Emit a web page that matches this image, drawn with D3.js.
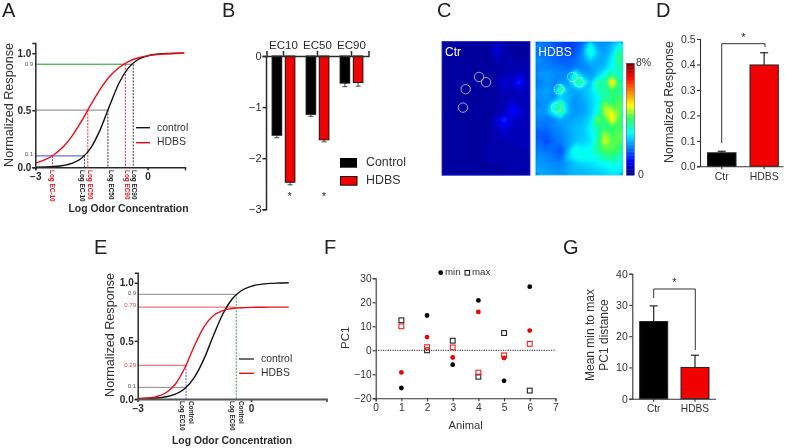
<!DOCTYPE html>
<html><head><meta charset="utf-8">
<script src="https://cdn.jsdelivr.net/npm/d3@7"></script>
<style>
html,body{margin:0;padding:0;background:#fff;overflow:hidden}
svg{display:block;font-family:"Liberation Sans",Arial,sans-serif;filter:blur(0.35px)}
</style></head><body>
<svg id="fig" width="787" height="448"></svg>
<script>
// ---- Data ----
const logConc = [-3,-2.75,-2.5,-2.25,-2,-1.75,-1.5,-1.25,-1,-0.75,-0.5,-0.25,0,0.25,0.5,0.75,1];
const curveAControl = [0.001,0.003,0.007,0.016,0.036,0.082,0.175,0.334,0.543,0.738,0.87,0.941,0.974,0.989,0.995,0.998,0.999];
const curveAHdbs = [0.037,0.065,0.11,0.18,0.28,0.409,0.552,0.686,0.796,0.873,0.925,0.956,0.975,0.986,0.992,0.996,0.998];
const curveEControl = [0.002,0.004,0.008,0.019,0.042,0.091,0.186,0.341,0.541,0.729,0.86,0.933,0.969,0.986,0.994,0.997,0.999];
const curveEHdbs = [0.003,0.008,0.021,0.054,0.129,0.269,0.456,0.619,0.715,0.76,0.778,0.785,0.788,0.789,0.79,0.79,0.79];
const ecA = [
 {label:"Log EC-10",x:-2.54,y:0.1,c:"#e8141c",lx:52,dash:1},
 {label:"Log EC-10",x:-1.68,y:0.1,c:"#222",lx:81.5,dash:1},
 {label:"Log EC50",x:-1.59,y:0.5,c:"#e8141c",lx:90,dash:1},
 {label:"Log EC50",x:-1.05,y:0.5,c:"#222",lx:111,dash:1},
 {label:"Log EC90",x:-0.58,y:0.9,c:"#e8141c",lx:126.5,dash:1},
 {label:"Log EC90",x:-0.37,y:0.9,c:"#222",lx:133.5,dash:1}];
const levelsA = [
 {y:0.9,x:-0.37,c:"#999"},{y:0.9,x:-0.58,c:"#5cb85c"},
 {y:0.5,x:-1.05,c:"#999"},{y:0.1,x:-1.68,c:"#6a6af0"}];
const ecGroups = ["EC10","EC50","EC90"];
const ecControl = [-1.55,-1.14,-0.53];
const ecHdbs = [-2.47,-1.64,-0.52];
const ecControlErr = [0.05,0.04,0.07];
const ecHdbsErr = [0.05,0.04,0.07];
const groups = ["Ctr","HDBS"];
const dValues = [0.053,0.398];
const dErr = [0.006,0.048];
const gValues = [24.7,10];
const gErr = [5,3.9];
const animals = [1,2,3,4,5,6];
const minBlack = [-15.7,14.5,-6,20.8,-12.7,26.5];
const maxBlack = [12.5,0,4,-11,7.2,-16.8];
const minRed = [-9.2,5.5,-3,16,-3.2,8.2];
const maxRed = [10,1.3,1.2,-9.3,-2.1,2.7];
const heatCols = 12, heatRows = 18;
const heatCtr = [
 .3,.3,.3,.3,.3,.3,.3,.7,.4,.3,.3,.3,
 .25,.25,.25,.25,.25,.25,.3,.8,.45,.35,.3,.3,
 .25,.25,.25,.25,.25,.25,.3,.45,.4,.35,.35,.35,
 .25,.25,.25,.25,.25,.25,.3,.35,.35,.4,.4,.4,
 .25,.25,.25,.25,.25,.25,.3,.35,.45,.55,.7,.5,
 .25,.25,.25,.25,.25,.25,.3,.4,.8,.6,1.4,.6,
 .25,.25,.25,.25,.25,.25,.3,.35,.55,.5,.7,.5,
 .25,.25,.25,.25,.25,.25,.3,.35,.4,.45,.5,.45,
 .25,.25,.25,.25,.25,.25,.3,.35,.45,.9,.55,.5,
 .25,.25,.25,.25,.25,.25,.3,.4,.5,1.1,.9,.5,
 .25,.25,.25,.25,.25,.25,.3,.7,1.5,.7,.6,.5,
 .25,.25,.25,.25,.25,.25,.35,.6,.9,.6,.55,.5,
 .25,.25,.25,.25,.25,.3,.35,.5,.6,.5,.5,.45,
 .25,.25,.25,.25,.25,.3,.35,.4,.45,.45,.45,.45,
 .25,.25,.25,.25,.3,.35,.45,.4,.4,.4,.45,.45,
 .25,.25,.25,.25,.3,.35,.4,.4,.4,.4,.4,.4,
 .25,.25,.25,.25,.25,.3,.35,.35,.35,.4,.4,.4,
 .25,.25,.25,.25,.25,.3,.3,.35,.35,.35,.35,.35];
const heatHdbs = [
 2.1,2.0,1.8,1.6,1.5,1.6,2.0,3.1,2.3,2.2,2.5,3.1,
 2.0,1.9,1.8,1.7,1.6,1.7,2.2,3.6,2.6,2.3,2.7,3.9,
 2.2,2.0,1.9,1.8,1.8,1.9,2.2,2.7,2.4,2.4,3.0,4.0,
 2.1,2.1,2.0,2.0,1.9,2.0,2.1,2.2,2.4,2.6,3.1,3.7,
 2.2,2.3,2.2,2.1,2.2,3.6,2.4,2.3,2.6,3.3,3.9,3.4,
 2.0,2.2,2.1,2.2,2.3,3.6,3.8,2.5,3.8,3.6,5.6,3.8,
 2.2,2.3,2.2,4.4,2.4,2.4,2.5,2.7,3.6,3.6,4.2,3.8,
 2.2,2.3,2.1,2.6,2.5,2.2,2.4,2.7,3.0,3.7,3.9,4.2,
 2.1,2.2,3.1,4.0,2.4,2.2,2.3,2.6,3.0,4.6,4.0,4.4,
 2.2,2.3,3.1,4.0,2.5,2.2,2.3,2.6,3.2,4.7,5.0,4.3,
 2.1,2.0,2.1,2.4,2.3,2.4,2.5,2.7,4.5,4.0,5.2,4.2,
 2.0,1.9,2.1,2.2,2.4,2.5,2.6,3.0,3.8,3.9,4.1,4.2,
 1.8,1.7,2.0,2.1,2.3,2.5,2.6,2.9,3.4,4.7,4.1,4.4,
 1.9,1.6,1.9,2.0,2.3,2.6,2.7,2.8,3.7,4.9,4.3,4.3,
 2.0,1.9,1.9,1.7,2.4,3.4,3.0,3.2,3.8,4.3,4.3,4.0,
 2.2,2.1,2.0,1.8,2.7,3.1,3.4,3.1,3.3,3.8,3.9,3.6,
 2.3,2.2,2.1,2.1,2.4,2.6,2.7,2.8,2.9,3.1,3.2,3.2,
 2.4,2.3,2.3,2.2,2.4,2.5,2.5,2.6,2.7,2.8,2.9,2.9];
const roiCols = [5.05,6.0,3.23,2.86];
const roiRows = [4.77,5.48,6.42,8.9];
const colorStops = [0,1,3,4.1,5,7,8];
const colorNames = ["#00007f","#0000ff","#00ffff","#30ff60","#ffff00","#ff0000","#7f0000"];
const fullTicks = [0,0.5,1];

// ---- Helpers ----
const svg = d3.select("#fig");
const INK = "#2a2a2a";
function txt(x,y,s,o={}){
  const t = svg.append("text").attr("x",x).attr("y",y).text(s)
    .attr("font-size",o.size||11).attr("fill",o.fill||INK)
    .attr("text-anchor",o.anchor||"start").attr("dominant-baseline",o.base||"auto");
  if(o.bold) t.attr("font-weight","bold");
  if(o.rot!=null) t.attr("transform",`rotate(${o.rot} ${x} ${y})`);
  return t;
}
function styleAxis(g,o={}){
  g.selectAll(".domain").attr("stroke",o.stroke||INK).attr("stroke-width",o.w||1.5);
  g.selectAll(".tick line").attr("stroke",o.stroke||INK).attr("stroke-width",o.w||1.5);
  g.selectAll(".tick text").attr("font-size",o.size||11).attr("fill",o.fill||INK)
    .attr("font-family","Liberation Sans, Arial, sans-serif")
    .attr("font-weight",o.bold?"bold":"normal");
  return g;
}
function line(x1,y1,x2,y2,c,w,dash){
  const l = svg.append("line").attr("x1",x1).attr("y1",y1).attr("x2",x2).attr("y2",y2)
    .attr("stroke",c).attr("stroke-width",w||1);
  if(dash) l.attr("stroke-dasharray",dash);
  return l;
}
[["A",2,17],["B",222,17],["C",437,17],["D",656,17],["E",94,254],["F",324,254],["G",563,254]]
  .forEach(d=>txt(d[1],d[2],d[0],{size:20,fill:"#222"}));

// ---- Panel A ----
(function(){
  const x = d3.scaleLinear().domain([-3,0]).range([35.3,147]);
  const y = d3.scaleLinear().domain([0,1]).range([167.3,53]);
  levelsA.forEach(d=>line(x(-3),y(d.y),x(d.x),y(d.y),d.c,1.2));
  ecA.forEach(d=>{
    line(x(d.x),y(d.y),x(d.x),y(0),d.c,0.9,"2,1.2");
    txt(d.lx,170,d.label,{size:6.4,bold:true,fill:d.c,rot:90,base:"middle"});
  });
  const ln = d3.line().x((d,i)=>x(logConc[i])).y(d=>y(d)).curve(d3.curveMonotoneX);
  svg.append("path").attr("d",ln(curveAControl)).attr("fill","none").attr("stroke","#111").attr("stroke-width",1.4);
  svg.append("path").attr("d",ln(curveAHdbs)).attr("fill","none").attr("stroke","#f00a14").attr("stroke-width",1.4);
  const ya = svg.append("g").attr("transform","translate(35.3,0)").call(
    d3.axisLeft(d3.scaleLinear().domain([0,1.09]).range([167.3,43])).tickValues(fullTicks).tickFormat(d3.format(".1f")).tickSize(3).tickPadding(1));
  styleAxis(ya,{size:10,bold:true});
  const xa = svg.append("g").attr("transform","translate(0,167.3)").call(
    d3.axisBottom(d3.scaleLinear().domain([-3,1]).range([35.3,185])).tickValues([-3,0]).tickFormat(d3.format("d")).tickSize(3).tickPadding(3));
  styleAxis(xa,{size:10,bold:true});
  txt(33,64.6,"0.9",{size:6,anchor:"end",base:"middle",fill:"#555"});
  txt(33,154.5,"0.1",{size:6,anchor:"end",base:"middle",fill:"#555"});
  txt(10,105,"Normalized Response",{size:12.6,anchor:"middle",base:"middle",rot:-90,fill:"#333"});
  txt(128.5,209,"Log Odor Concentration",{size:10.4,bold:true,anchor:"middle",base:"middle"});
  line(136,127.7,150,127.7,"#111",1.4); line(136,142.7,150,142.7,"#f00a14",1.4);
  txt(157,128,"control",{size:10.4,base:"middle",fill:"#333"});
  txt(157,142.5,"HDBS",{size:10.4,base:"middle",fill:"#333"});
})();

// ---- Panel B ----
(function(){
  const x = d3.scaleBand().domain(ecGroups).range([266.5,368.5]);
  const y = d3.scaleLinear().domain([-3,0]).range([209.3,56]);
  const off = 6.6, w = 9.6;
  const draw=(vals,errs,sign,fill)=>{
    ecGroups.forEach((g,i)=>{
      const cx = x(g)+x.bandwidth()/2+sign*off;
      line(cx,y(vals[i]),cx,y(vals[i]-errs[i]),"#333",0.9);
      line(cx-2.5,y(vals[i]-errs[i]),cx+2.5,y(vals[i]-errs[i]),"#333",0.9);
      svg.append("rect").attr("x",cx-w/2).attr("width",w).attr("y",y(0)).attr("height",y(vals[i])-y(0))
        .attr("fill",fill).attr("stroke","#111").attr("stroke-width",1);
    });
  };
  draw(ecControl,ecControlErr,-1,"#000");
  draw(ecHdbs,ecHdbsErr,1,"#f00000");
  const ya = svg.append("g").attr("transform","translate(266,0)").call(
    d3.axisLeft(y).tickValues([-3,-2,-1,0]).tickFormat(d3.format("d")).tickSize(3.5).tickPadding(1));
  styleAxis(ya,{size:11});
  const xa = svg.append("g").attr("transform","translate(0,56)").call(
    d3.axisTop(x).tickSize(5).tickPadding(2));
  styleAxis(xa,{size:11.5});
  txt(289.7,199.5,"*",{size:11,anchor:"middle"});
  txt(324,199.5,"*",{size:11,anchor:"middle"});
  svg.append("rect").attr("x",340).attr("y",158).attr("width",17).attr("height",9.7).attr("fill","#000");
  svg.append("rect").attr("x",340.5).attr("y",176.5).attr("width",16.5).attr("height",8.7).attr("fill","#f00000").attr("stroke","#111");
  txt(366,163,"Control",{size:12.4,base:"middle",fill:"#333"});
  txt(366,180.5,"HDBS",{size:12.4,base:"middle",fill:"#333"});
})();

// ---- Panel C ----
(function(){
  const color = d3.scaleLinear().domain(colorStops).range(colorNames);
  const defs = svg.append("defs");
  defs.append("filter").attr("id","soft").append("feGaussianBlur").attr("stdDeviation",1);
  const thresholds = d3.range(0.05,8,0.1);
  const contour = d3.contours().size([heatCols,heatRows]).thresholds(thresholds);
  const panels = [
    {id:"c1",x:442,w:88,vals:heatCtr,label:"Ctr",frame:"#2a2ad8",roi:"#c8c8d8",dash:null},
    {id:"c2",x:535.3,w:87.7,vals:heatHdbs,label:"HDBS",frame:"#7fe8f0",roi:"#e8ffff",dash:"1.5,0.7"}];
  const top=41.5,h=133.7;
  panels.forEach(p=>{
    const sx = d3.scaleLinear().domain([0,heatCols]).range([p.x,p.x+p.w]);
    const sy = d3.scaleLinear().domain([0,heatRows]).range([top,top+h]);
    defs.append("clipPath").attr("id",p.id).append("rect").attr("x",p.x).attr("y",top).attr("width",p.w).attr("height",h);
    const path = d3.geoPath(d3.geoTransform({point(a,b){this.stream.point(sx(a),sy(b));}}));
    const outer = svg.append("g").attr("clip-path",`url(#${p.id})`);
    const inner = outer.append("g").attr("filter","url(#soft)");
    inner.append("rect").attr("x",p.x-5).attr("y",top-5).attr("width",p.w+10).attr("height",h+10).attr("fill",color(d3.min(p.vals)));
    inner.selectAll("path").data(contour(p.vals)).join("path").attr("d",path).attr("fill",d=>color(d.value));
    svg.append("rect").attr("x",p.x).attr("y",top).attr("width",p.w).attr("height",h).attr("fill","none").attr("stroke",p.frame).attr("stroke-width",0.9);
    roiCols.forEach((c,i)=>{
      const ci = svg.append("circle").attr("cx",sx(c)).attr("cy",sy(roiRows[i])).attr("r",4.7)
        .attr("fill","none").attr("stroke",p.roi).attr("stroke-width",0.8);
      if(p.dash) ci.attr("stroke-dasharray",p.dash);
    });
    txt(p.x+3,56,p.label,{size:12,fill:"#fff"});
  });
  const cy = d3.scaleLinear().domain([0,8]).range([175,63.3]);
  svg.append("g").selectAll("rect").data(d3.range(0,8,0.1)).join("rect")
    .attr("x",626.5).attr("width",7.8).attr("y",d=>cy(d+0.1)).attr("height",d=>cy(d)-cy(d+0.1)+0.4).attr("fill",d=>color(d+0.05));
  svg.append("rect").attr("x",626.5).attr("width",7.8).attr("y",63.3).attr("height",111.7).attr("fill","none").attr("stroke","#223").attr("stroke-width",0.4);
  txt(636,63.5,"8%",{size:10.5,base:"middle",fill:"#333"});
  txt(638,175,"0",{size:10.5,base:"middle",fill:"#333"});
})();

// ---- Bar helper (D, G) ----
function barPanel(o){
  const y = d3.scaleLinear().domain(o.domain).range([o.y0,o.y1]);
  groups.forEach((g,i)=>{
    const [a,b]=o.bars[i];
    const cx=(a+b)/2, tp=y(o.vals[i]+o.errs[i]);
    line(cx,y(o.vals[i]),cx,tp,"#222",1.2);
    line(cx-4,tp,cx+4,tp,"#222",1.2);
    svg.append("rect").attr("x",a).attr("width",b-a).attr("y",y(o.vals[i])).attr("height",o.y0-y(o.vals[i]))
      .attr("fill",i?"#f00000":"#000").attr("stroke","#222").attr("stroke-width",1);
    txt(cx,o.labelY,g,{size:o.size,anchor:"middle",base:"middle",fill:"#333"});
  });
  const ya = svg.append("g").attr("transform",`translate(${o.xAxis},0)`).call(
    d3.axisLeft(y).tickValues(o.ticks).tickFormat(o.fmt).tickSize(3).tickPadding(1.5));
  styleAxis(ya,{size:o.tsize,w:1.1,stroke:"#333",fill:"#333"});
  const xs = d3.scaleOrdinal().domain(groups).range(o.bars.map(b=>(b[0]+b[1])/2));
  const xa = svg.append("g").attr("transform",`translate(0,${o.y0})`).call(
    d3.axisBottom(d3.scaleLinear().domain([0,1]).range([o.xAxis,o.xEnd])).tickValues([]).tickSize(0));
  styleAxis(xa,{w:1.1,stroke:"#333"});
  groups.forEach(g=>line(xs(g),o.y0,xs(g),o.y0+3,"#333",1.1));
}
// ---- Panel D ----
barPanel({domain:[0,0.5],y0:166.3,y1:39,xAxis:700,xEnd:783,bars:[[707.5,736],[750,778.3]],vals:dValues,errs:dErr,
  ticks:[0,.1,.2,.3,.4,.5],fmt:d3.format(".1f"),labelY:177.5,size:10.4,tsize:10.4});
svg.append("path").attr("d","M721.7,143V43.7H765V47").attr("fill","none").attr("stroke","#333").attr("stroke-width",1);
txt(743.5,41,"*",{size:11,anchor:"middle"});
txt(670,102,"Normalized Response",{size:12.4,anchor:"middle",base:"middle",rot:-90,fill:"#333"});

// ---- Panel E ----
(function(){
  const x = d3.scaleLinear().domain([-3,0]).range([137.7,251]);
  const y = d3.scaleLinear().domain([0,1]).range([399,282.7]);
  const gl=[[0.9,-0.39,"#8a8a8a"],[0.79,-0.42,"#f05050"],[0.29,-1.72,"#f05050"],[0.1,-1.72,"#8a8a8a"]];
  gl.forEach(d=>line(x(-3),y(d[0]),x(d[1]),y(d[0]),d[2],1));
  line(x(-1.72),y(0.29),x(-1.72),y(0),"#4040f0",0.9,"2,1.2");
  line(x(-0.39),y(0.9),x(-0.39),y(0),"#20a020",0.9,"2,1.2");
  const ln = d3.line().x((d,i)=>x(logConc[i])).y(d=>y(d)).curve(d3.curveMonotoneX);
  svg.append("path").attr("d",ln(curveEControl)).attr("fill","none").attr("stroke","#111").attr("stroke-width",1.4);
  svg.append("path").attr("d",ln(curveEHdbs)).attr("fill","none").attr("stroke","#f00a14").attr("stroke-width",1.4);
  const ya = svg.append("g").attr("transform","translate(137.7,0)").call(
    d3.axisLeft(d3.scaleLinear().domain([0,1.086]).range([399,272.7])).tickValues(fullTicks).tickFormat(d3.format(".1f")).tickSize(3).tickPadding(1));
  styleAxis(ya,{size:10,bold:true});
  const xa = svg.append("g").attr("transform","translate(0,399)").call(
    d3.axisBottom(d3.scaleLinear().domain([-3,2]).range([137.7,326.5])).tickValues([-3,0]).tickFormat(d3.format("d")).tickSize(3).tickPadding(3));
  styleAxis(xa,{size:10,bold:true,stroke:"#555",w:1.8,fill:INK});
  [[293.3,"0.9","#555"],[305.5,"0.79","#e84040"],[365.7,"0.29","#e84040"],[386.5,"0.1","#555"]]
    .forEach(d=>txt(136,d[0],d[1],{size:6,anchor:"end",base:"middle",fill:d[2]}));
  [["Control",190.5],["Log EC10",181.7],["Log EC90",231.7],["Control",240.3]]
    .forEach(d=>txt(d[1],401,d[0],{size:6.4,bold:true,rot:90,base:"middle"}));
  txt(111,335,"Normalized Response",{size:12.6,anchor:"middle",base:"middle",rot:-90,fill:"#333"});
  txt(232,441,"Log Odor Concentration",{size:10.4,bold:true,anchor:"middle",base:"middle"});
  line(239,359,254,359,"#333",1.4); line(239,373.3,254,373.3,"#f00a14",1.4);
  txt(261,359,"control",{size:10.4,base:"middle",fill:"#333"});
  txt(261,373.3,"HDBS",{size:10.4,base:"middle",fill:"#333"});
})();

// ---- Panel F ----
(function(){
  const x = d3.scaleLinear().domain([0,7]).range([375.7,555.4]);
  const y = d3.scaleLinear().domain([-20,30]).range([398.3,278.3]);
  line(x(0),y(0),x(7),y(0),"#222",1,"1.2,1.2");
  const ya = svg.append("g").attr("transform","translate(375.7,0)").call(
    d3.axisLeft(y).tickValues(d3.range(-20,31,10)).tickFormat(d3.format("d")).tickSize(3).tickPadding(1));
  styleAxis(ya,{size:10.2,w:1.1,stroke:"#333",fill:"#333"});
  const xa = svg.append("g").attr("transform","translate(0,398.3)").call(
    d3.axisBottom(x).tickValues(d3.range(0,8)).tickFormat(d3.format("d")).tickSize(3).tickPadding(2));
  styleAxis(xa,{size:10.2,w:1.1,stroke:"#333",fill:"#333"});
  const dots=(vals,c)=>svg.append("g").selectAll("circle").data(vals).join("circle")
    .attr("cx",(d,i)=>x(animals[i])).attr("cy",d=>y(d)).attr("r",2.4).attr("fill",c);
  const squares=(vals,c)=>svg.append("g").selectAll("rect").data(vals).join("rect")
    .attr("x",(d,i)=>x(animals[i])-2.4).attr("y",d=>y(d)-2.4).attr("width",4.8).attr("height",4.8)
    .attr("fill","none").attr("stroke",c).attr("stroke-width",1.1);
  dots(minBlack,"#000"); dots(minRed,"#f00000");
  squares(maxBlack,"#222"); squares(maxRed,"#f02020");
  svg.append("circle").attr("cx",440.7).attr("cy",272.7).attr("r",2.4).attr("fill","#000");
  txt(445,272.7,"min",{size:9.7,base:"middle",fill:"#333"});
  svg.append("rect").attr("x",465).attr("y",270.5).attr("width",4.6).attr("height",4.6).attr("fill","none").attr("stroke","#222").attr("stroke-width",1.1);
  txt(472,272.7,"max",{size:9.7,base:"middle",fill:"#333"});
  txt(465.7,425.7,"Animal",{size:11.2,anchor:"middle",base:"middle",fill:"#333"});
  txt(345.7,337.7,"PC1",{size:11.5,anchor:"middle",base:"middle",rot:-90,fill:"#333"});
})();

// ---- Panel G ----
barPanel({domain:[0,40],y0:398.7,y1:273.7,xAxis:632.3,xEnd:715.7,bars:[[639.7,667.7],[681,709]],vals:gValues,errs:gErr,
  ticks:[0,10,20,30,40],fmt:d3.format("d"),labelY:409,size:10.2,tsize:10.5});
svg.append("path").attr("d","M653.7,298V289H695.3V350").attr("fill","none").attr("stroke","#333").attr("stroke-width",1);
txt(674.3,285.5,"*",{size:11,anchor:"middle"});
txt(590.7,335,"Mean min to max",{size:12,anchor:"middle",base:"middle",rot:-90,fill:"#333"});
txt(605,335,"PC1 distance",{size:12,anchor:"middle",base:"middle",rot:-90,fill:"#333"});
</script>
</body></html>
